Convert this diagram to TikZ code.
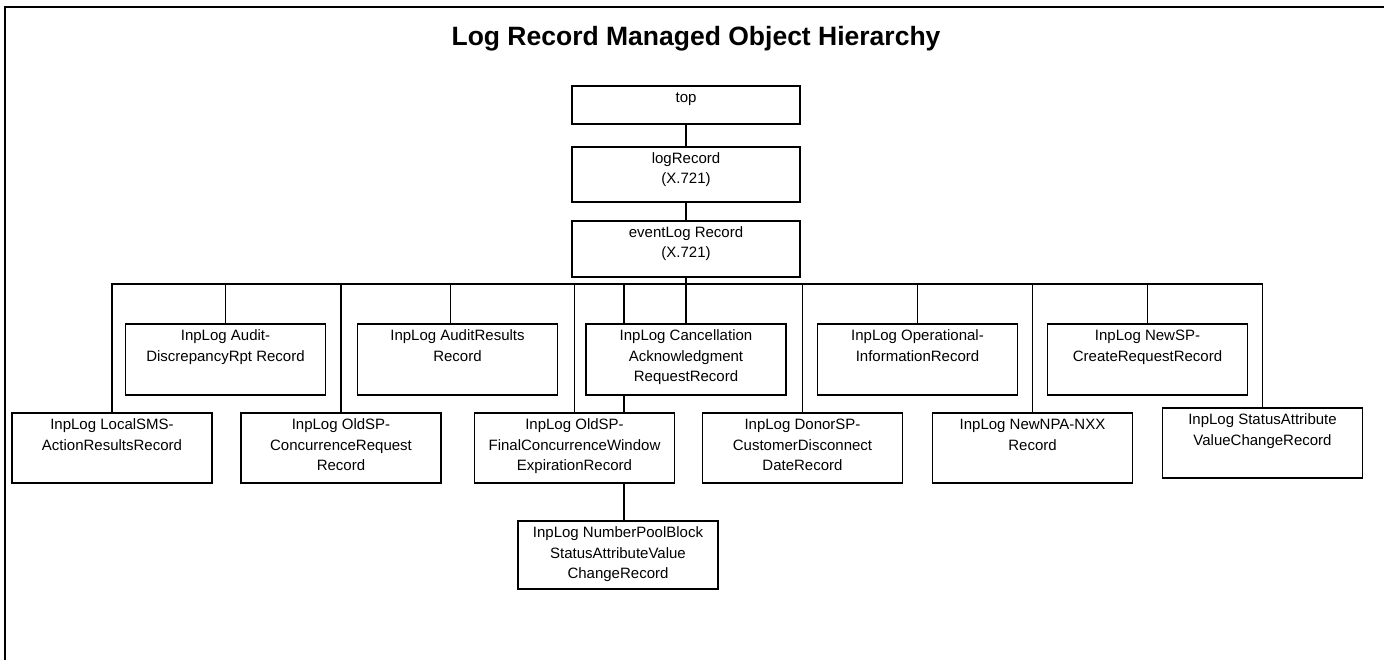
\documentclass[tikz,border=0pt]{standalone}
\usepackage{fontspec}
\setmainfont{Liberation Sans}
\usetikzlibrary{backgrounds}

\newcommand{\boxtext}[2][70]{\parbox[c][#1pt][t]{196pt}{\centering\fontsize{15}{20.5}\selectfont\rule{0pt}{16.5pt}#2}}

\begin{document}
\begin{tikzpicture}
    [
        x=1pt, y=-1pt,
        rec node/.style={draw, fill=white, line width=1.7pt, inner sep=0pt, minimum width=200pt},
        link/.style={line width=1.5pt},
        title node/.style={font=\bfseries\fontsize{26.5}{30}\selectfont, anchor=base}
    ]

    \useasboundingbox (0,0) rectangle (1384,660);
    \draw [line width=2pt] (5,670) -- (5,7) -- (1395,7);

    \node [title node] (title) at (696,46) {Log Record Managed Object Hierarchy};

    \node [rec node, minimum width=228pt] (top) at (686,105) {\boxtext[38]{top}};
    \node [rec node, minimum width=228pt] (logrec) at (686,174.5) {\boxtext[55]{logRecord\\(X.721)}};
    \node [rec node, minimum width=228pt] (evtlog) at (686,249) {\boxtext[56]{eventLog Record\\(X.721)}};

    \node [rec node] (audit) at (225.5,359.5) {\boxtext[71]{InpLog Audit-\\DiscrepancyRpt Record}};
    \node [rec node] (auditres) at (457.5,359.5) {\boxtext[71]{InpLog AuditResults\\Record}};
    \node [rec node] (cancel) at (686,359.5) {\boxtext[71]{InpLog Cancellation\\Acknowledgment\\RequestRecord}};
    \node [rec node] (oper) at (917.5,359.5) {\boxtext[71]{InpLog Operational-\\InformationRecord}};
    \node [rec node] (newsp) at (1147.5,359.5) {\boxtext[71]{InpLog NewSP-\\CreateRequestRecord}};

    \node [rec node] (localsms) at (112,448) {\boxtext{InpLog LocalSMS-\\ActionResultsRecord}};
    \node [rec node] (oldsp) at (341,448) {\boxtext{InpLog OldSP-\\ConcurrenceRequest\\Record}};
    \node [rec node] (finalconc) at (574.5,448) {\boxtext{InpLog OldSP-\\FinalConcurrenceWindow\\ExpirationRecord}};
    \node [rec node] (donor) at (802.5,448) {\boxtext{InpLog DonorSP-\\CustomerDisconnect\\DateRecord}};
    \node [rec node] (newnpa) at (1032.5,448) {\boxtext{InpLog NewNPA-NXX\\Record}};
    \node [rec node] (statusattr) at (1262.5,443) {\boxtext{InpLog StatusAttribute\\ValueChangeRecord}};

    \node [rec node] (numpool) at (618,555) {\boxtext[68]{InpLog NumberPoolBlock\\StatusAttributeValue\\ChangeRecord}};

    \begin{scope}[on background layer]
        \coordinate (bus) at (686,284);
        \draw [link] (top) -- (logrec);
        \draw [link] (logrec) -- (evtlog);
        \draw [link] (evtlog) -- (cancel);
        \draw [link] (localsms.north) |- (bus) -| (statusattr.north);
        \draw [link] (audit.north) -- (audit.north |- bus);
        \draw [link] (oldsp.north) -- (oldsp.north |- bus);
        \draw [link] ([xshift=-7pt]auditres.north) -- ([xshift=-7pt]auditres.north |- bus);
        \draw [link] (finalconc.north) -- (finalconc.north |- bus);
        \draw [link] ([xshift=6pt]numpool.north) -- ([xshift=6pt]numpool.north |- bus);
        \draw [link] (donor.north) -- (donor.north |- bus);
        \draw [link] (oper.north) -- (oper.north |- bus);
        \draw [link] (newnpa.north) -- (newnpa.north |- bus);
        \draw [link] (newsp.north) -- (newsp.north |- bus);
    \end{scope}
\end{tikzpicture}
\end{document}
